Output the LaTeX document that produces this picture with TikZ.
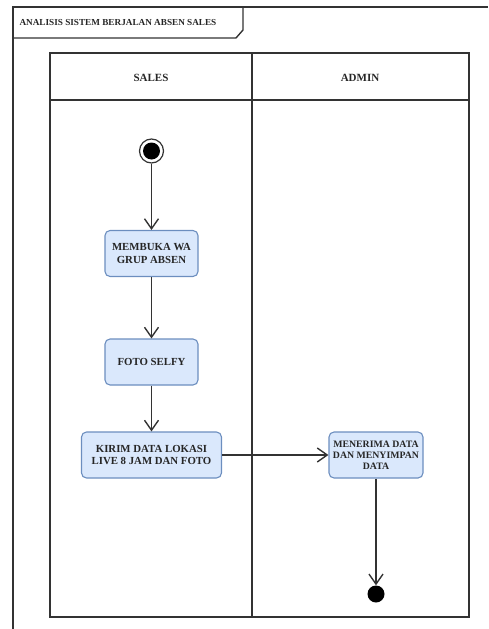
\documentclass[tikz,border=0pt]{standalone}
\usepackage{fontspec}
\setmainfont{Liberation Serif}
\usetikzlibrary{arrows.meta}
\definecolor{lanefg}{HTML}{333333}
\definecolor{actfill}{HTML}{DAE8FC}
\definecolor{actdraw}{HTML}{6C8EBF}
\tikzset{
  frameline/.style={draw=lanefg, line width=1.4pt},
  activity/.style={draw=actdraw, fill=actfill, line width=1.1pt, rounded corners=5pt,
    minimum width=93pt, minimum height=46pt, align=center, inner sep=2pt,
    font=\fontsize{10.8}{12.5}\selectfont\bfseries, text=black!85},
  flow/.style={draw=lanefg, line width=1.4pt, -{Straight Barb[length=10pt,width=14pt]}},
  header/.style={font=\fontsize{11}{13}\selectfont\bfseries, text=black!85},
}
\begin{document}
\begin{tikzpicture}[x=1pt,y=-1pt]
  \useasboundingbox (0,0) rectangle (488,629);
  % outer frame and its title tab
  \draw[frameline] (13,629) -- (13,7) -- (488,7);
  \draw[frameline] (243,7) -- (243,30) -- (236,38) -- (13,38);
  \node[anchor=west, font=\fontsize{9.2}{11}\selectfont\bfseries, text=black!85] (title) at (16,22) {ANALISIS SISTEM BERJALAN ABSEN SALES};

  % swimlanes
  \draw[frameline] (50,53) rectangle (469,617);
  \draw[frameline] (50,100) -- (469,100);
  \draw[frameline] (252,53) -- (252,617);
  \node[header] (sales) at (151,78) {SALES};
  \node[header] (admin) at (360,78) {ADMIN};

  % start and end
  \node[circle, draw=lanefg, fill=white, line width=1.2pt, minimum size=24pt, inner sep=0pt] (start) at (151.5,151) {};
  \node[circle, fill=black, minimum size=17pt, inner sep=0pt] at (start) {};
  \node[circle, fill=black, minimum size=17pt, inner sep=0pt] (end) at (376,594) {};

  % activities
  \node[activity] (wa) at (151.5,253.5) {MEMBUKA WA\\GRUP ABSEN};
  \node[activity] (foto) at (151.5,362) {FOTO SELFY};
  \node[activity, minimum width=140pt] (kirim) at (151.5,455) {KIRIM DATA LOKASI\\LIVE 8 JAM DAN FOTO};
  \node[activity, minimum width=94pt, inner sep=1pt, font=\fontsize{9.8}{11}\selectfont\bfseries] (terima) at (376,455) {MENERIMA DATA\\DAN MENYIMPAN\\DATA};

  % control flow
  \draw[flow] (start) -- (wa);
  \draw[flow] (wa) -- (foto);
  \draw[flow] (foto) -- (kirim);
  \draw[flow] (kirim) -- (terima);
  \draw[flow] (terima) -- (end);
\end{tikzpicture}
\end{document}
